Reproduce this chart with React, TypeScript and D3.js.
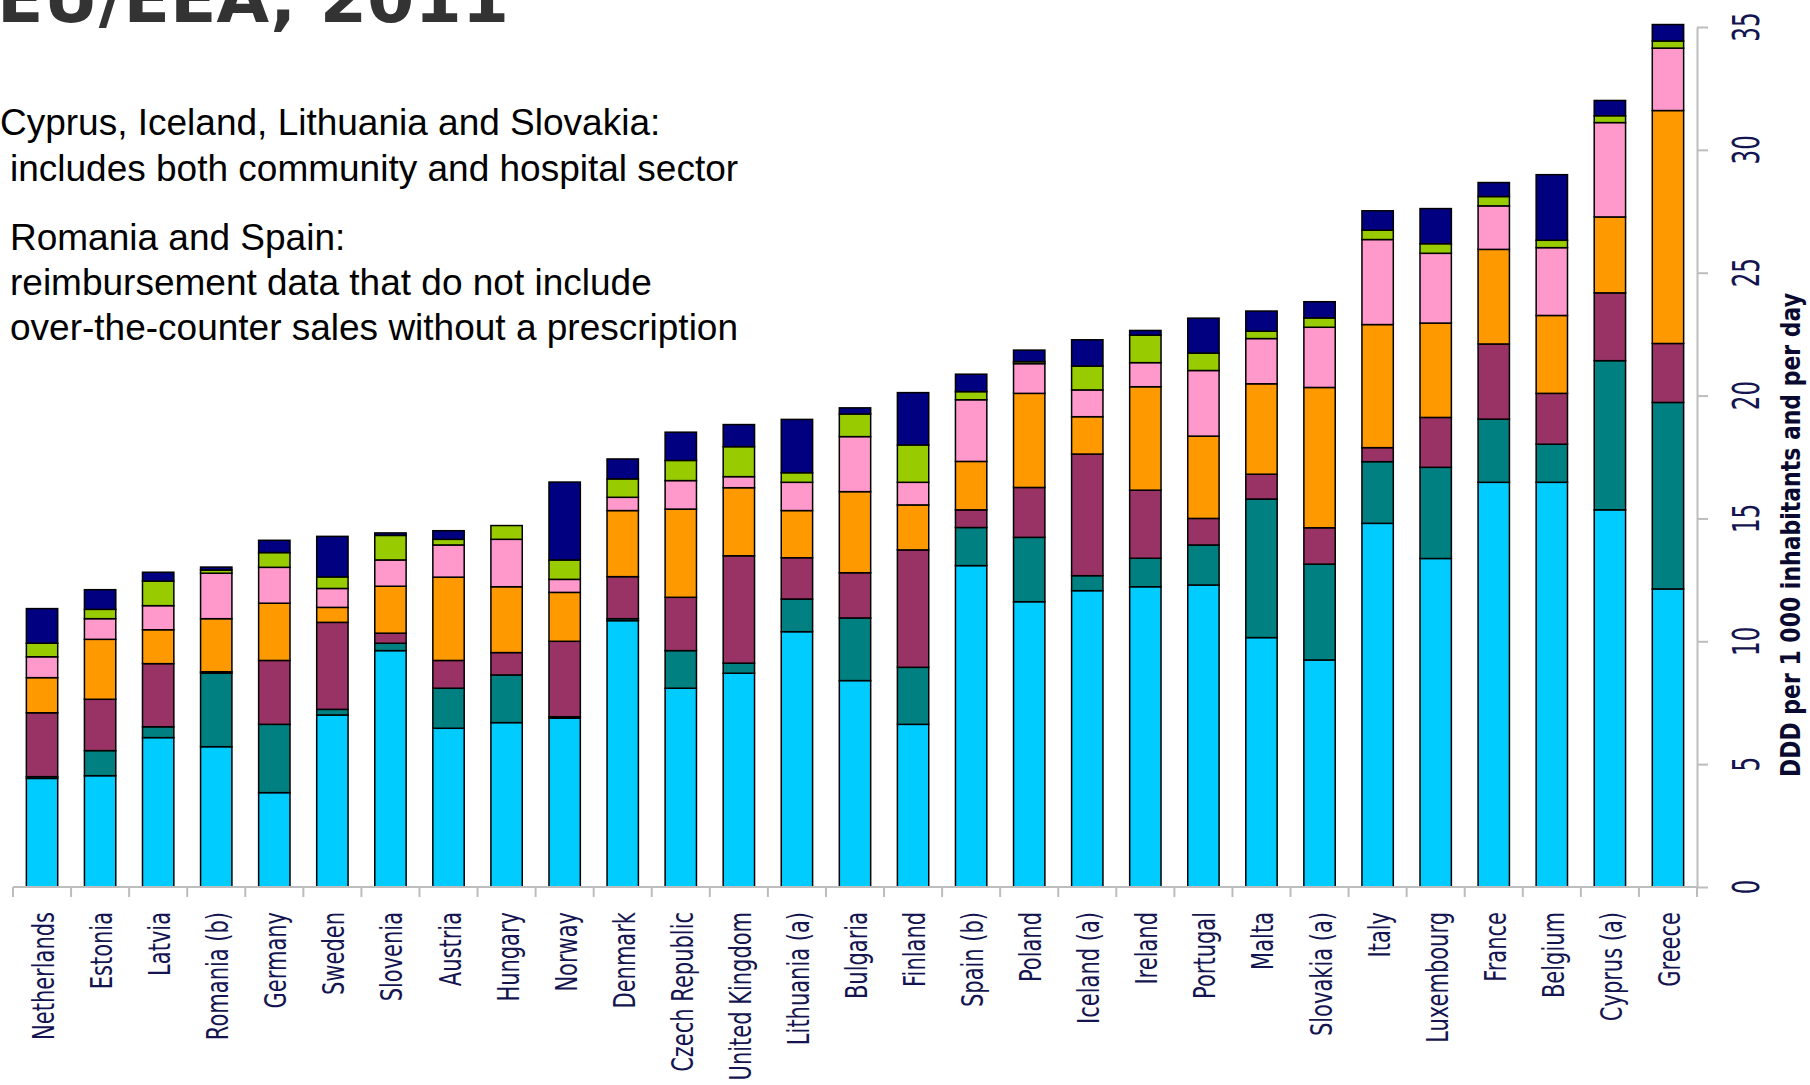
import React, { useEffect, useRef } from 'react';
import * as d3 from 'd3';

const countries = [
  'Netherlands', 'Estonia', 'Latvia', 'Romania (b)', 'Germany', 'Sweden', 'Slovenia', 'Austria',
  'Hungary', 'Norway', 'Denmark', 'Czech Republic', 'United Kingdom', 'Lithuania (a)', 'Bulgaria',
  'Finland', 'Spain (b)', 'Poland', 'Iceland (a)', 'Ireland', 'Portugal', 'Malta', 'Slovakia (a)',
  'Italy', 'Luxembourg', 'France', 'Belgium', 'Cyprus (a)', 'Greece',
];

// DDD per 1 000 inhabitants and per day (bottom to top)
const penicillins = [4.42, 4.53, 6.08, 5.71, 3.84, 7.0, 9.62, 6.46, 6.69, 6.87, 10.84, 8.09, 8.7, 10.39, 8.4, 6.62, 13.08, 11.61, 12.06, 12.22, 12.29, 10.15, 9.24, 14.8, 13.37, 16.47, 16.47, 15.35, 12.13];
const cephalosporins = [0.07, 1.02, 0.44, 2.99, 2.78, 0.23, 0.3, 1.63, 1.94, 0.06, 0.08, 1.53, 0.41, 1.33, 2.55, 2.32, 1.55, 2.62, 0.61, 1.16, 1.63, 5.64, 3.9, 2.51, 3.71, 2.57, 1.55, 6.07, 7.59];
const tetracyclines = [2.6, 2.09, 2.57, 0.06, 2.6, 3.54, 0.41, 1.13, 0.91, 3.07, 1.71, 2.17, 4.37, 1.68, 1.84, 4.78, 0.72, 2.03, 4.95, 2.77, 1.08, 1.01, 1.48, 0.57, 2.03, 3.06, 2.07, 2.76, 2.4];
const macrolides = [1.43, 2.44, 1.38, 2.16, 2.33, 0.61, 1.91, 3.39, 2.68, 1.99, 2.69, 3.59, 2.77, 1.92, 3.3, 1.83, 1.97, 3.83, 1.52, 4.21, 3.35, 3.68, 5.71, 5.01, 3.84, 3.85, 3.17, 3.09, 9.48];
const quinolones = [0.85, 0.84, 0.98, 1.85, 1.46, 0.77, 1.07, 1.31, 1.93, 0.53, 0.54, 1.16, 0.45, 1.15, 2.24, 0.92, 2.51, 1.21, 1.09, 0.98, 2.67, 1.84, 2.45, 3.46, 2.84, 1.77, 2.76, 3.84, 2.54];
const sulfonamides = [0.55, 0.38, 1.0, 0.13, 0.6, 0.47, 1.0, 0.23, 0.56, 0.79, 0.75, 0.82, 1.22, 0.39, 0.92, 1.52, 0.33, 0.08, 0.97, 1.12, 0.71, 0.3, 0.38, 0.38, 0.39, 0.38, 0.3, 0.28, 0.29];
const others = [1.41, 0.8, 0.36, 0.12, 0.5, 1.65, 0.1, 0.35, 0.0, 3.17, 0.81, 1.15, 0.9, 2.17, 0.25, 2.13, 0.71, 0.47, 1.07, 0.19, 1.42, 0.82, 0.66, 0.79, 1.43, 0.57, 2.67, 0.62, 0.67];

const seriesKeys = ['penicillins', 'cephalosporins', 'tetracyclines', 'macrolides', 'quinolones', 'sulfonamides', 'others'];
const seriesValues = [penicillins, cephalosporins, tetracyclines, macrolides, quinolones, sulfonamides, others];
const seriesColors = ['#00ccff', '#008080', '#993366', '#ff9900', '#ff99cc', '#99cc00', '#000080'];

const yTicks = [0, 5, 10, 15, 20, 25, 30, 35];

const notes = [
  { text: 'Cyprus, Iceland, Lithuania and Slovakia:', x: 0, y: 135 },
  { text: 'includes both community and hospital sector', x: 10, y: 181 },
  { text: 'Romania and Spain:', x: 10, y: 250 },
  { text: 'reimbursement data that do not include', x: 10, y: 295 },
  { text: 'over-the-counter sales without a prescription', x: 10, y: 340 },
];

const WIDTH = 1810;
const HEIGHT = 1085;

const App: React.FC = () => {
  const svgRef = useRef<SVGSVGElement>(null);

  useEffect(() => {
    document.body.style.margin = '0';
    if (!svgRef.current) return;
    const svg = d3.select(svgRef.current);
    svg.selectAll('*').remove();

    const x = d3.scaleBand<string>()
      .domain(countries)
      .range([13, 1697])
      .paddingInner(0.46)
      .paddingOuter(0.23);

    const y = d3.scaleLinear().domain([0, 35]).range([887, 27]);

    const rows = countries.map((c, i) => {
      const r: any = { country: c };
      seriesKeys.forEach((k, j) => { r[k] = seriesValues[j][i]; });
      return r;
    });
    const stacked = d3.stack<any>().keys(seriesKeys)(rows);

    // title (only the lower part is in frame)
    svg.append('text')
      .attr('x', -3)
      .attr('y', 22)
      .attr('textLength', 512)
      .attr('lengthAdjust', 'spacingAndGlyphs')
      .style('font-family', '"DejaVu Sans", sans-serif')
      .style('font-weight', 'bold')
      .style('font-size', '68px')
      .attr('fill', '#333333')
      .text('EU/EEA, 2011');

    // notes
    svg.append('g')
      .selectAll('text')
      .data(notes)
      .enter()
      .append('text')
      .attr('x', d => d.x)
      .attr('y', d => d.y)
      .style('font-family', '"Liberation Sans", Arial, sans-serif')
      .style('font-size', '37px')
      .attr('fill', '#000')
      .text(d => d.text);

    // bars
    const layers = svg.append('g')
      .selectAll('g')
      .data(stacked)
      .enter()
      .append('g')
      .attr('fill', (_, i) => seriesColors[i]);

    layers.selectAll('rect')
      .data(d => d.filter(s => s[1] - s[0] > 0))
      .enter()
      .append('rect')
      .attr('x', d => x(d.data.country)!)
      .attr('width', x.bandwidth())
      .attr('y', d => y(d[1]))
      .attr('height', d => y(d[0]) - y(d[1]))
      .attr('stroke', '#000')
      .attr('stroke-width', 1.5);

    // x axis with ticks at the category boundaries
    const axisColor = '#bdbdbd';
    const half = (x.step() * x.paddingInner()) / 2;
    const bounds = countries.map(c => x(c)! - half);
    bounds.push(x(countries[countries.length - 1])! + x.bandwidth() + half);

    svg.append('line')
      .attr('x1', bounds[0])
      .attr('x2', bounds[bounds.length - 1])
      .attr('y1', y(0))
      .attr('y2', y(0))
      .attr('stroke', axisColor)
      .attr('stroke-width', 2);

    svg.append('g')
      .selectAll('line')
      .data(bounds)
      .enter()
      .append('line')
      .attr('x1', d => d)
      .attr('x2', d => d)
      .attr('y1', y(0))
      .attr('y2', y(0) + 10)
      .attr('stroke', axisColor)
      .attr('stroke-width', 2);

    svg.append('g')
      .selectAll('text')
      .data(countries)
      .enter()
      .append('text')
      .attr('transform', d => `translate(${x(d)! + x.bandwidth() / 2 + 12},912) scale(1.45,1) rotate(-90)`)
      .attr('text-anchor', 'end')
      .style('font-family', '"DejaVu Sans", sans-serif')
      .style('font-size', '21px')
      .attr('fill', '#141450')
      .text(d => d);

    // y axis on the right
    const yAxis = svg.append('g')
      .attr('transform', 'translate(1697,0)')
      .call(d3.axisRight(y).tickValues(yTicks).tickSize(11).tickSizeOuter(0).tickFormat(() => ''));
    yAxis.select('.domain').attr('stroke', axisColor).attr('stroke-width', 2);
    yAxis.selectAll('.tick line').attr('stroke', axisColor).attr('stroke-width', 2);

    svg.append('g')
      .selectAll('text')
      .data(yTicks)
      .enter()
      .append('text')
      .attr('transform', d => `translate(1759,${y(d)}) scale(1.6,1) rotate(-90)`)
      .attr('text-anchor', 'middle')
      .style('font-family', '"DejaVu Sans", sans-serif')
      .style('font-size', '23px')
      .attr('fill', '#141450')
      .text(d => String(d));

    svg.append('text')
      .attr('transform', 'translate(1800,535) scale(1.35,1) rotate(-90)')
      .attr('text-anchor', 'middle')
      .attr('textLength', 484)
      .attr('lengthAdjust', 'spacingAndGlyphs')
      .style('font-family', '"DejaVu Sans", sans-serif')
      .style('font-weight', 'bold')
      .style('font-size', '20px')
      .attr('fill', '#0a0a30')
      .text('DDD per 1 000 inhabitants and per day');
  }, []);

  return (
    <div style={{ position: 'absolute', left: 0, top: 0 }}>
      <svg ref={svgRef} width={WIDTH} height={HEIGHT} style={{ display: 'block', background: '#fff' }} />
    </div>
  );
};

export default App;
